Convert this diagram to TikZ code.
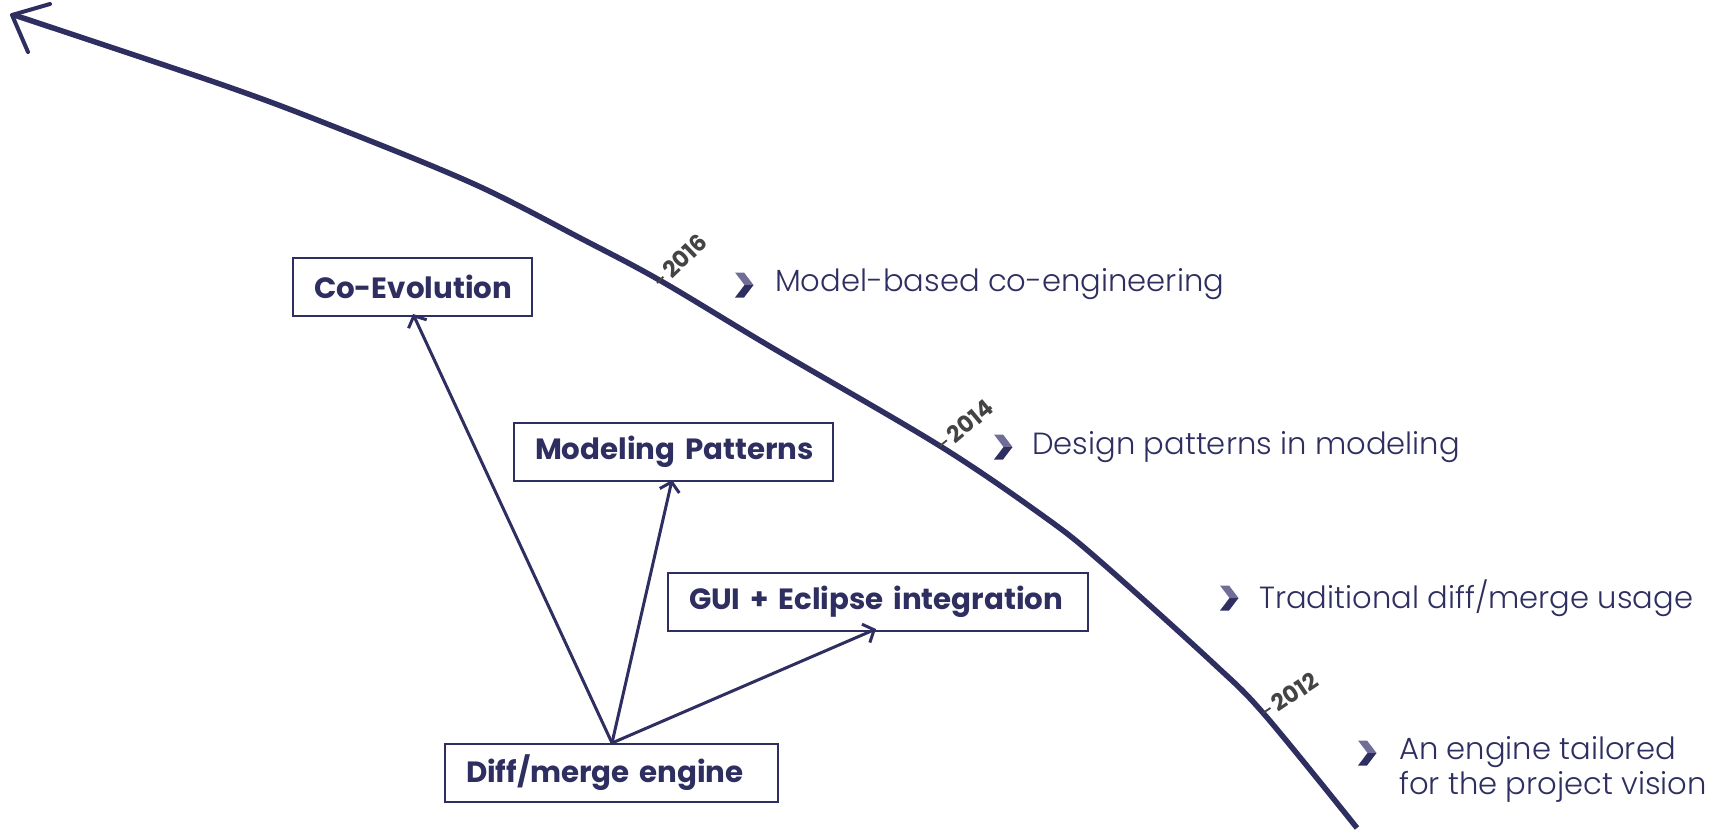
\documentclass[tikz,border=0pt]{standalone}
\usepackage{fontspec}
\setmainfont{Poppins}
\newfontfamily\lightfont{Poppins}[UprightFont=* Light]
\usetikzlibrary{arrows.meta,calc}
\definecolor{navy}{RGB}{46,46,96}
\definecolor{navylight}{RGB}{112,110,152}
\definecolor{yeargray}{RGB}{68,68,68}
\begin{document}
\begin{tikzpicture}[x=1pt,y=-1pt,
  box/.style={draw=navy, line width=2pt, text=navy, anchor=north west,
    font=\bfseries\fontsize{29.3}{32}\selectfont, inner xsep=4pt, inner ysep=0pt,
    text width=#1, align=left, minimum height=58pt},
  link/.style={draw=navy, line width=3pt, line cap=round,
    -{Straight Barb[length=9pt,width=20pt,line width=3pt]}},
  timeline/.style={draw=navy, line width=5.5pt, line cap=butt},
  yeartick/.style={draw=yeargray, line width=1.8pt},
  yearlbl/.style={text=yeargray, font=\bfseries\fontsize{23}{25}\selectfont,
    anchor=west, inner sep=1pt},
  item/.style={text=navy, font=\lightfont\fontsize{30.6}{35}\selectfont, anchor=west,
    inner sep=0pt, align=left},
]
\useasboundingbox (0,0) rectangle (1727,833);

% time line running from bottom right up to the top left
\draw[timeline] plot[smooth, tension=0.55] coordinates {
  (1357,828) (1264,714) (1212,662) (1101,562) (1046,518) (940,446)
  (771,347) (661,281) (584,240) (474,184) (330,125) (220,84) (14,15)};
\coordinate (tip) at (12,15);
\draw[draw=navy, line width=4pt, line cap=round, line join=round]
  ($(tip)+(38,-11)$) -- (tip) -- ($(tip)+(16,37)$);

% year marks along the time line
\coordinate (t12) at (1263,713);
\coordinate (t14) at (940,446);
\coordinate (t16) at (657,283);
\foreach \t/\y/\a in {t12/2012/34, t14/2014/40, t16/2016/44}{
  \draw[yeartick] (\t) -- ++({9*cos(\a)},{-9*sin(\a)});
  \node[yearlbl, rotate=\a] at ($(\t)+({12*cos(\a)},{-12*sin(\a)})$) {\y};
}

% chevron bullet, two tone
\newcommand{\chev}[1]{%
  \fill[navylight] ($(#1)+(-9,-12.5)$) -- ++(9,0) -- ++(9.5,12.5) -- ++(-9,0) -- cycle;
  \fill[navy] ($(#1)+(0.5,0)$) -- ++(9,0) -- ++(-9.5,12.5) -- ++(-9,0) -- cycle;}

\coordinate (b1) at (744,285);
\coordinate (b2) at (1003,447);
\coordinate (b3) at (1229,598);
\coordinate (b4) at (1367,753);
\chev{b1}\chev{b2}\chev{b3}\chev{b4}
\node[item] (i1) at (775,284) {Model-based co-engineering};
\node[item] (i2) at (1032,447) {Design patterns in modeling};
\node[item] (i3) at (1259,598) {Traditional diff/merge usage};
\node[item, anchor=north west] (i4) at (1399,736) {An engine tailored\\for the project vision};

% building blocks: text set 21pt in from the left edge
\node[box=231pt] (coevo) at (292,257) {\hspace*{17pt}Co-Evolution};
\node[box=311pt] (pat) at (513,422) {\hspace*{17pt}Modeling Patterns};
\node[box=412pt] (gui) at (667,572) {\hspace*{17pt}GUI + Eclipse integration};
\node[box=325pt] (eng) at (444,743) {\hspace*{17pt}Diff/merge engine};

\coordinate (src) at ([xshift=168pt]eng.north west);
\draw[link] (src) -- ([xshift=121pt,yshift=3pt]coevo.south west);
\draw[link] (src) -- ([xshift=159pt,yshift=2pt]pat.south west);
\draw[link] (src) -- ([xshift=209pt,yshift=3pt]gui.south west);
\end{tikzpicture}
\end{document}
